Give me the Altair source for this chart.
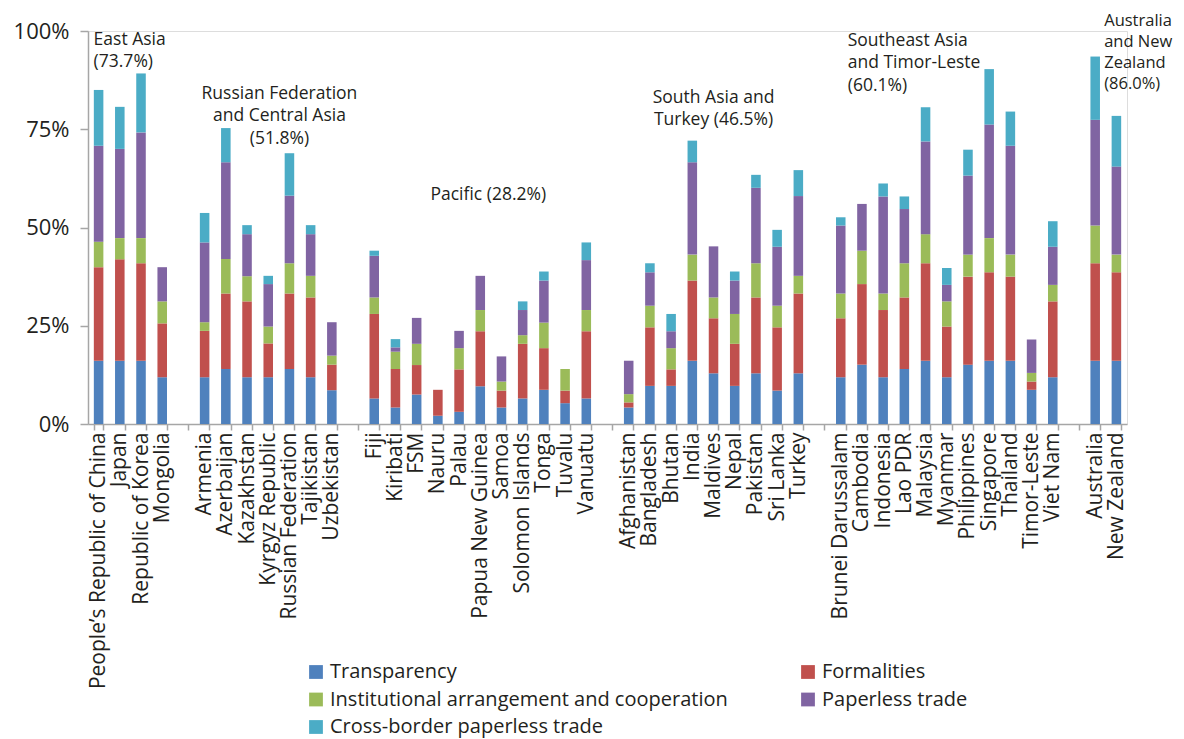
import altair as alt
import pandas as pd

# ---- categories (groups separated by blank slots) ----
east_asia = ["People’s Republic of China", "Japan", "Republic of Korea", "Mongolia"]
russia_ca = ["Armenia", "Azerbaijan", "Kazakhstan", "Kyrgyz Republic", "Russian Federation",
             "Tajikistan", "Uzbekistan"]
pacific = ["Fiji", "Kiribati", "FSM", "Nauru", "Palau", "Papua New Guinea", "Samoa",
           "Solomon Islands", "Tonga", "Tuvalu", "Vanuatu"]
south_asia = ["Afghanistan", "Bangladesh", "Bhutan", "India", "Maldives", "Nepal", "Pakistan",
              "Sri Lanka", "Turkey"]
se_asia = ["Brunei Darussalam", "Cambodia", "Indonesia", "Lao PDR", "Malaysia", "Myanmar",
           "Philippines", "Singapore", "Thailand", "Timor-Leste", "Viet Nam"]
anz = ["Australia", "New Zealand"]

countries = east_asia + russia_ca + pacific + south_asia + se_asia + anz
domain = (east_asia + [" "] + russia_ca + ["  "] + pacific + ["   "] + south_asia
          + ["    "] + se_asia + ["     "] + anz)

series = ["Transparency", "Formalities", "Institutional arrangement and cooperation",
          "Paperless trade", "Cross-border paperless trade"]
colors = ["#4F81BD", "#C0504D", "#9BBB59", "#8064A2", "#4BACC6"]

# ---- values (% of maximum score), one list per series, in country order ----
transparency = [16.1, 16.1, 16.1, 11.9,
                11.9, 14.0, 11.9, 11.9, 14.0, 11.9, 8.6,
                6.5, 4.2, 7.5, 2.1, 3.1, 9.6, 4.2, 6.5, 8.7, 5.3, 6.5,
                4.2, 9.7, 9.7, 16.1, 12.9, 9.7, 12.9, 8.5, 12.9,
                11.9, 15.1, 11.9, 14.0, 16.1, 11.9, 15.1, 16.1, 16.1, 8.7, 11.9,
                16.1, 16.1]
formalities = [23.8, 25.8, 24.8, 13.7,
               11.8, 19.2, 19.3, 8.6, 19.2, 20.3, 6.5,
               21.5, 9.8, 7.5, 6.6, 10.8, 14.0, 4.3, 13.9, 10.6, 3.2, 17.1,
               1.3, 14.9, 4.2, 20.4, 14.0, 10.7, 19.3, 16.1, 20.3,
               15.0, 20.5, 17.1, 18.2, 24.8, 12.9, 22.4, 22.5, 21.4, 2.1, 19.3,
               24.8, 22.5]
institutional = [6.5, 5.4, 6.4, 5.6,
                 2.2, 8.8, 6.4, 4.3, 7.7, 5.5, 2.3,
                 4.2, 4.4, 5.4, 0.0, 5.4, 5.4, 2.3, 2.2, 6.5, 5.5, 5.4,
                 2.1, 5.5, 5.4, 6.6, 5.3, 7.6, 8.7, 5.5, 4.5,
                 6.3, 8.5, 4.2, 8.7, 7.4, 6.4, 5.6, 8.7, 5.6, 2.2, 4.2,
                 9.6, 4.5]
paperless = [24.4, 22.7, 26.9, 8.7,
             20.3, 24.6, 10.7, 10.8, 17.2, 10.6, 8.5,
             10.6, 1.1, 6.6, 0.0, 4.4, 8.7, 6.4, 6.4, 10.7, 0.0, 12.7,
             8.5, 8.5, 4.3, 23.5, 13.0, 8.5, 19.2, 15.0, 20.3,
             17.3, 11.9, 24.7, 13.8, 23.6, 4.2, 20.1, 28.9, 27.7, 8.5, 9.7,
             26.9, 22.4]
cross_border = [14.2, 10.7, 15.0, 0.0,
                7.5, 8.7, 2.3, 2.1, 10.8, 2.3, 0.0,
                1.3, 2.1, 0.0, 0.0, 0.0, 0.0, 0.0, 2.2, 2.3, 0.0, 4.5,
                0.0, 2.3, 4.4, 5.5, 0.0, 2.3, 3.3, 4.3, 6.6,
                2.1, 0.0, 3.3, 3.2, 8.7, 4.3, 6.6, 14.1, 8.7, 0.0, 6.5,
                16.1, 12.9]

# ---- group annotations ----
ann_text = ["East Asia\n(73.7%)",
            "Russian Federation\nand Central Asia\n(51.8%)",
            "Pacific (28.2%)",
            "South Asia and\nTurkey (46.5%)",
            "Southeast Asia\nand Timor-Leste\n(60.1%)",
            "Australia\nand New\nZealand\n(86.0%)"]
ann_cat = ["People’s Republic of China", "Russian Federation", "Papua New Guinea",
           "Maldives", "Brunei Darussalam", "Australia"]
ann_y = [0.965, 0.827, 0.570, 0.818, 0.963, 1.012]
# (align, dx, font size, line height)
ann_style = [("left", -5, 17.5, 22.5), ("center", -10, 17.5, 22.5), ("center", 8, 17.5, 22.5),
             ("center", 0, 17.5, 22.5), ("left", 7, 17.5, 22.5), ("left", 9, 16.5, 21)]

rows = []
for si, (name, vals) in enumerate(zip(series, [transparency, formalities, institutional,
                                                paperless, cross_border])):
    for c, v in zip(countries, vals):
        rows.append({"country": c, "series": name, "value": v / 100.0, "order": si})
df = pd.DataFrame(rows)

FONT = "Open Sans"
TXT = "#231F20"
AX = "#A6A6A6"

# legend fills column by column: reorder so it reads row by row like the original
leg_order = [0, 2, 4, 1, 3]
leg_domain = [series[i] for i in leg_order]
leg_range = [colors[i] for i in leg_order]

xscale = alt.Scale(domain=domain, paddingInner=0.55, paddingOuter=0.275)
yscale = alt.Scale(domain=[0, 1])

bars = alt.Chart(df).mark_bar().encode(
    x=alt.X("country:N", scale=xscale, sort=domain,
            axis=alt.Axis(title=None, labelAngle=-90, labelFontSize=21, labelColor=TXT,
                          labelFont=FONT, tickBand="extent", tickSize=6, tickColor=AX,
                          domainColor=AX, domainWidth=1.5, tickWidth=1.5, labelPadding=2,
                          labelLimit=400)),
    y=alt.Y("value:Q", stack="zero", scale=yscale,
            axis=alt.Axis(title=None, format=".0%", values=[0, 0.25, 0.5, 0.75, 1],
                          grid=False, labelFontSize=22, labelColor=TXT, labelFont=FONT,
                          tickSize=8, tickColor=AX, domainColor=AX, domainWidth=1.5,
                          tickWidth=1.5, labelPadding=11)),
    color=alt.Color("series:N", scale=alt.Scale(domain=leg_domain, range=leg_range),
                    legend=alt.Legend(title=None, orient="none", legendX=218, legendY=631,
                                      columns=2, labelFontSize=20, labelFont=FONT,
                                      labelColor=TXT, symbolType="square", symbolSize=190,
                                      symbolStrokeWidth=0, columnPadding=70, rowPadding=7.5,
                                      labelOffset=4, labelLimit=600)),
    order=alt.Order("order:Q"),
)

layers = [bars]
for t, c, yv, (al, dx, fs, lh) in zip(ann_text, ann_cat, ann_y, ann_style):
    adf = pd.DataFrame({"t": [t], "cat": [c], "v": [yv]})
    layers.append(
        alt.Chart(adf).mark_text(align=al, baseline="alphabetic", lineBreak="\n",
                                 fontSize=fs, lineHeight=lh, font=FONT, color=TXT, dx=dx)
        .encode(x=alt.X("cat:N", scale=xscale, sort=domain),
                y=alt.Y("v:Q", scale=yscale),
                text="t:N")
    )

chart = alt.layer(*layers).properties(
    width=1039, height=393,
    autosize=alt.AutoSizeParams(type="none"),
    padding={"left": 80, "top": 23, "right": 49, "bottom": 315},
).configure_view(stroke=None).configure(font=FONT)

chart.save("out.html", embed_options={"renderer": "svg", "actions": False})
